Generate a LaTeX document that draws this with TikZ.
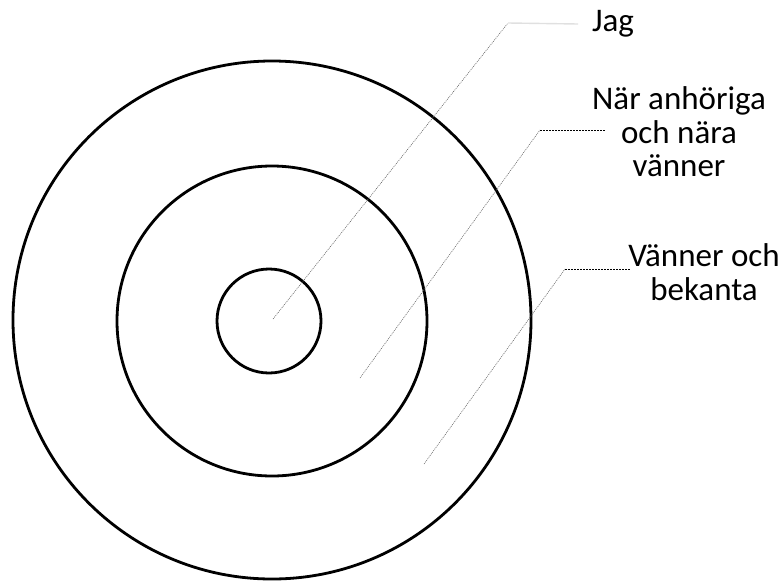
\documentclass[tikz,border=0pt]{standalone}
\usepackage{fontspec}
\setmainfont{Carlito}
\usetikzlibrary{positioning}
\begin{document}
\begin{tikzpicture}[x=1pt,y=-1pt,
  ring/.style={circle,draw=black,line width=2.8pt,inner sep=0pt,outer sep=0pt},
  lbl/.style={align=center,inner sep=0pt,font=\fontsize{33}{33.5}\selectfont},
  leader/.style={draw=black!60,line width=0.6pt,dash pattern=on 1pt off 1pt},
  shelf/.style={draw=black,line width=0.6pt,dash pattern=on 2pt off 1pt},
  faint/.style={draw=black!12,line width=1.4pt}]
  \useasboundingbox (0,0) rectangle (781,581);
  % rings
  \node[ring,minimum size=518pt] (outer) at (272,320) {};
  \node[ring,minimum size=310pt] (middle) at (272,321) {};
  \node[ring,minimum size=104pt] (inner) at (269,321) {};
  % labels (base = last line)
  \node[lbl,anchor=base] (jag) at (613,31.7) {Jag};
  \node[lbl,anchor=base] (nara) at (679,176.7) {När anhöriga\\och nära\\vänner};
  \node[lbl,anchor=base] (bekanta) at (704,300) {Vänner och\\bekanta};
  % leader points
  \coordinate (jagpt) at (273,319);
  \coordinate (jagknee) at (508,23);
  \coordinate (jagend) at (578,24);
  \coordinate (narapt) at (360,378);
  \coordinate (naraknee) at (540,130);
  \coordinate (naraend) at (605,130);
  \coordinate (bekpt) at (424,464);
  \coordinate (bekknee) at (565,269);
  \coordinate (bekend) at (630,269);
  \draw[leader] (jagpt) -- (jagknee); \draw[faint] (jagknee) -- (jagend);
  \draw[leader] (narapt) -- (naraknee); \draw[shelf] (naraknee) -- (naraend);
  \draw[leader] (bekpt) -- (bekknee); \draw[shelf] (bekknee) -- (bekend);
\end{tikzpicture}
\end{document}
